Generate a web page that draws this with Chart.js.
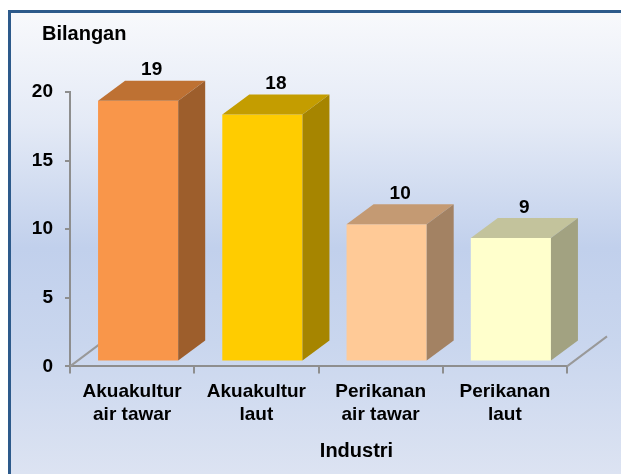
<!DOCTYPE html>
<html>
<head>
<meta charset="utf-8">
<script src="https://cdn.jsdelivr.net/npm/chart.js@4"></script>
<style>
  html, body { margin: 0; padding: 0; background: #fff; overflow: hidden; }
  #frame {
    position: absolute; left: 8px; top: 10px; width: 700px; height: 490px;
    border: 3px solid #2d5a8b;
    background: linear-gradient(to bottom, #f8f9fc 0px, #e4eaf6 110px, #c1d0ec 235px, #c9d6ee 330px, #dce3f2 460px);
  }
  #wrap { position: absolute; left: 0; top: 0; width: 621px; height: 474px; }
</style>
</head>
<body>
<div id="frame"></div>
<div id="wrap"><canvas id="chart" width="621" height="474"></canvas></div>
<script>
// data
var categories = [["Akuakultur", "air tawar"], ["Akuakultur", "laut"], ["Perikanan", "air tawar"], ["Perikanan", "laut"]]
var values = [19, 18, 10, 9]
var yTicks = [0, 5, 10, 15, 20]
var yTitle = "Bilangan"
var xTitle = "Industri"

// colours of each bar: front, top, side
var frontColors = ["#f9964a", "#ffcc00", "#ffca97", "#ffffcc"]
var topColors = ["#be7133", "#c49d00", "#c49a73", "#c3c39c"]
var sideColors = ["#9d5e2c", "#a68500", "#a38263", "#a2a281"]

var font = "'Liberation Sans', Arial, sans-serif"

// 3d look
var depthX = 27, depthY = -20     // bar depth
var shiftX = 6, shiftY = -5       // bars sit a bit back on the floor
var floorX = 40, floorY = -30     // floor depth

var bars3d = {
  id: 'bars3d',
  beforeDatasetsDraw: function (chart) {
    var ctx = chart.ctx
    var a = chart.chartArea
    // floor edges
    ctx.save()
    ctx.strokeStyle = "#999999"
    ctx.lineWidth = 2
    ctx.beginPath()
    ctx.moveTo(a.left, a.bottom)
    ctx.lineTo(a.left + floorX, a.bottom + floorY)
    ctx.moveTo(a.right, a.bottom)
    ctx.lineTo(a.right + floorX, a.bottom + floorY)
    ctx.stroke()
    ctx.restore()

    ctx.save()
    ctx.translate(shiftX, shiftY)
  },
  afterDatasetsDraw: function (chart) {
    var ctx = chart.ctx
    var meta = chart.getDatasetMeta(0)
    meta.data.forEach(function (el, i) {
      var p = el.getProps(['x', 'y', 'base', 'width'], true)
      var l = p.x - p.width / 2
      var r = p.x + p.width / 2

      // top face
      ctx.fillStyle = topColors[i]
      ctx.beginPath()
      ctx.moveTo(l, p.y)
      ctx.lineTo(l + depthX, p.y + depthY)
      ctx.lineTo(r + depthX, p.y + depthY)
      ctx.lineTo(r, p.y)
      ctx.closePath()
      ctx.fill()

      // side face
      ctx.fillStyle = sideColors[i]
      ctx.beginPath()
      ctx.moveTo(r, p.y)
      ctx.lineTo(r + depthX, p.y + depthY)
      ctx.lineTo(r + depthX, p.base + depthY)
      ctx.lineTo(r, p.base)
      ctx.closePath()
      ctx.fill()

      // value label
      ctx.fillStyle = "#000"
      ctx.font = "bold 19px " + font
      ctx.textAlign = "center"
      ctx.textBaseline = "bottom"
      ctx.fillText(String(values[i]), p.x + depthX / 2, p.y + depthY - 1)
    })
    ctx.restore()
  }
}

// axis titles, placed like the original (horizontal, top left / under the axis)
var titles = {
  id: 'titles',
  afterDraw: function (chart) {
    var ctx = chart.ctx
    var a = chart.chartArea
    ctx.save()
    ctx.fillStyle = "#000"
    ctx.font = "bold 20px " + font
    ctx.textBaseline = "middle"
    ctx.textAlign = "left"
    ctx.fillText(yTitle, a.left - 28, a.top - 58)
    ctx.textAlign = "center"
    ctx.fillText(xTitle, (a.left + a.right) / 2 + 38, a.bottom + 85)
    ctx.restore()
  }
}

var ctx = document.getElementById('chart').getContext('2d')

var chart = new Chart(ctx, {
  type: 'bar',
  data: {
    labels: categories,
    datasets: [{
      data: values,
      backgroundColor: frontColors,
      borderWidth: 0,
      barPercentage: 0.645,
      categoryPercentage: 1,
      clip: false
    }]
  },
  options: {
    responsive: false,
    animation: false,
    layout: {
      padding: { left: 20, right: 54, top: 92, bottom: 41 }
    },
    plugins: {
      legend: { display: false },
      tooltip: { enabled: false },
      title: { display: false }
    },
    scales: {
      x: {
        grid: {
          drawOnChartArea: false,
          tickLength: 7,
          color: '#8e8e8e',
          lineWidth: 2
        },
        border: { color: '#8e8e8e', width: 2 },
        ticks: {
          color: '#000',
          padding: 7,
          maxRotation: 0,
          font: { family: font, size: 19, weight: 'bold' }
        }
      },
      y: {
        min: yTicks[0],
        max: yTicks[yTicks.length - 1],
        afterFit: function (scale) { scale.width = 50 },
        afterBuildTicks: function (scale) {
          scale.ticks = yTicks.map(function (v) { return { value: v } })
        },
        grid: {
          drawOnChartArea: false,
          tickLength: 5,
          color: '#8e8e8e',
          lineWidth: 2
        },
        border: { color: '#8e8e8e', width: 2 },
        ticks: {
          color: '#000',
          padding: 12,
          font: { family: font, size: 19, weight: 'bold' }
        }
      }
    }
  },
  plugins: [bars3d, titles]
})
</script>
</body>
</html>
